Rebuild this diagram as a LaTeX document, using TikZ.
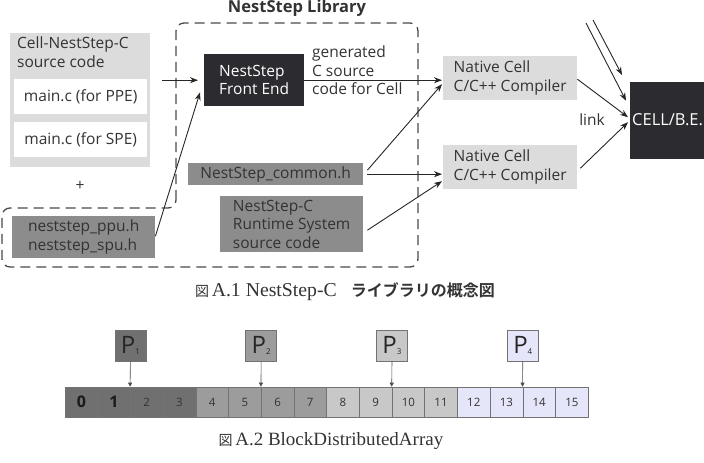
\documentclass[tikz,border=0pt]{standalone}
\usepackage{fontspec}
\setmainfont{Open Sans}
\newfontfamily\cjk{Noto Sans CJK JP}
\newfontfamily\cjkb{Noto Sans CJK JP Bold}
\newfontfamily\garb{Liberation Serif}
\usetikzlibrary{arrows.meta}
\definecolor{lgray}{HTML}{DCDCDC}
\definecolor{mgray}{HTML}{8C8C8C}
\definecolor{dbox}{HTML}{2B2B30}
\definecolor{txtc}{HTML}{333333}
\definecolor{dashc}{HTML}{4A4A4A}
\definecolor{ca}{HTML}{707070}
\definecolor{cb}{HTML}{9C9C9C}
\definecolor{cc}{HTML}{C8C8C8}
\definecolor{cd}{HTML}{E6E6FA}
\begin{document}
\begin{tikzpicture}[x=1pt,y=-1pt,
  every node/.style={font=\fontsize{15.5}{18.5}\selectfont, text=txtc},
  boxnw/.style={anchor=north west, inner sep=0pt, draw=none},
  lbox/.style={boxnw, fill=lgray},
  wbox/.style={boxnw, fill=white},
  mbox/.style={boxnw, fill=mgray},
  kbox/.style={boxnw, fill=dbox, text=white},
  arr/.style={-{Stealth[length=8pt,width=6pt]}, line width=0.9pt, draw=black!85},
  pbox/.style={draw=black!55, line width=0.6pt, minimum width=31pt, minimum height=31pt, inner sep=0pt, text=black!85},
  cellbox/.style={draw=black!55, line width=0.6pt, minimum width=32.7pt, minimum height=30pt, inner sep=0pt, font=\fontsize{11.5}{11.5}\selectfont},
  parr/.style={-{Triangle[length=4pt,width=4pt]}, line width=0.6pt, draw=black!70}
]
\useasboundingbox (0,0) rectangle (704,463);

% title
\node[font=\bfseries\fontsize{16.5}{18}\selectfont] (title) at (297,8) {NestStep Library};

% dashed library region
\draw[dashc, line width=1.3pt, dash pattern=on 10pt off 6pt, rounded corners=8pt]
  (176,208) -- (176,23) -- (418,23) -- (418,267) -- (2,267) -- (2,208) -- cycle;

% left source box
\node[lbox, minimum width=140pt, minimum height=134pt] (cell) at (10,33) {};
\node[anchor=north west, align=left, inner sep=0pt] (celltxt) at (17,37) {Cell-NestStep-C\\source code};
\node[wbox, minimum width=133pt, minimum height=35pt] (ppe) at (14,79) {main.c (for PPE)};
\node[wbox, minimum width=133pt, minimum height=35pt] (spe) at (14,122) {main.c (for SPE)};
\node (plus) at (80,186) {+};
\node[mbox, minimum width=143pt, minimum height=42pt, align=left] (hdr) at (12,216) {neststep\_ppu.h\\neststep\_spu.h};

% front end
\node[kbox, minimum width=100pt, minimum height=52pt, align=left] (fe) at (204,54) {NestStep\\Front End};
\node[anchor=north west, align=left, inner sep=0pt] (gen) at (312,46) {generated\\C source\\code for Cell};

% common & runtime
\node[mbox, minimum width=175pt, minimum height=22pt] (com) at (188,163) {NestStep\_common.h};
\node[mbox, minimum width=143pt, minimum height=56pt, align=left] (rt) at (220,196) {NestStep-C\\Runtime System\\source code};

% compilers
\node[lbox, minimum width=134pt, minimum height=44pt, align=left] (nat1) at (443,56) {Native Cell\\C/C++ Compiler};
\node[lbox, minimum width=134pt, minimum height=44pt, align=left] (nat2) at (443,145) {Native Cell\\C/C++ Compiler};

% CELL/B.E.
\node[kbox, minimum width=80pt, minimum height=77pt] (be) at (630,82) {};
\node[anchor=west, inner sep=0pt, text=white, font=\fontsize{16.5}{18}\selectfont] (betxt) at (632,120) {CELL/B.E.};
\node (link) at (592,120) {link};

\coordinate (t1) at (586,23);
\coordinate (t2) at (593,20);

% arrows
\draw[arr] ([xshift=12pt]cell.east |- fe.west) -- ([xshift=-6pt]fe.west);
\draw[arr] ([shift={(0,-1)}]hdr.east) -- ([shift={(-4,-14)}]fe.south west);
\draw[arr] (fe.east) -- ([xshift=-1pt]nat1.west |- fe.east);
\draw[arr] ([shift={(4,-4)}]com.east) -- ([shift={(-1,6)}]nat1.west);
\draw[arr] ([shift={(4,0)}]com.east) -- ([xshift=-1pt]nat2.west |- com.east);
\draw[arr] ([shift={(4,6)}]rt.east) -- ([shift={(-1,14)}]nat2.west);
\draw[arr] ([shift={(0,1)}]nat1.east) -- ([shift={(-2,-3.5)}]be.west);
\draw[arr] ([shift={(3,1)}]nat2.east) -- ([shift={(-2,1.5)}]be.west);
\draw[arr] (t1) -- ([shift={(-4,-20)}]be.west);
\draw[arr] (t2) -- ([shift={(-8,-7)}]be.north west);

% caption 1
\node[inner sep=0pt] (cap1) at (345,292) {{\cjk\fontsize{14}{14}\selectfont 図}\,\resizebox{125pt}{13pt}{\garb A.1 NestStep-C}\hspace{14pt}{\cjkb\fontsize{16}{16}\selectfont ライブラリの概念図}};

% array
\foreach \i in {0,...,15} {
  \pgfmathsetmacro\cx{65+32.7*\i+16.35}
  \ifnum\i<4 \def\cf{ca}\else\ifnum\i<8 \def\cf{cb}\else\ifnum\i<12 \def\cf{cc}\else\def\cf{cd}\fi\fi\fi
  \ifnum\i<2
    \node[cellbox, fill=\cf, text=black!90] (c\i) at (\cx,402) {\fontsize{16}{16}\selectfont\bfseries\i};
  \else
    \node[cellbox, fill=\cf] (c\i) at (\cx,402) {\i};
  \fi
}

% processors
\node[pbox, fill=ca] (p1) at (130.4,345.5) {\fontsize{24}{24}\selectfont P\raisebox{-1pt}{\fontsize{8}{8}\selectfont 1}};
\node[pbox, fill=cb] (p2) at (261.2,345.5) {\fontsize{24}{24}\selectfont P\raisebox{-1pt}{\fontsize{8}{8}\selectfont 2}};
\node[pbox, fill=cc] (p3) at (392.0,345.5) {\fontsize{24}{24}\selectfont P\raisebox{-1pt}{\fontsize{8}{8}\selectfont 3}};
\node[pbox, fill=cd] (p4) at (522.8,345.5) {\fontsize{24}{24}\selectfont P\raisebox{-1pt}{\fontsize{8}{8}\selectfont 4}};
\draw[parr] (p1.south) -- (c2.north west);
\draw[parr] (p2.south) -- (c6.north west);
\draw[parr] (p3.south) -- (c10.north west);
\draw[parr] (p4.south) -- (c14.north west);

% caption 2
\node[inner sep=0pt] (cap2) at (331,441) {{\cjk\fontsize{14}{14}\selectfont 図}\,\resizebox{208pt}{13pt}{\garb A.2 BlockDistributedArray}};
\end{tikzpicture}
\end{document}
